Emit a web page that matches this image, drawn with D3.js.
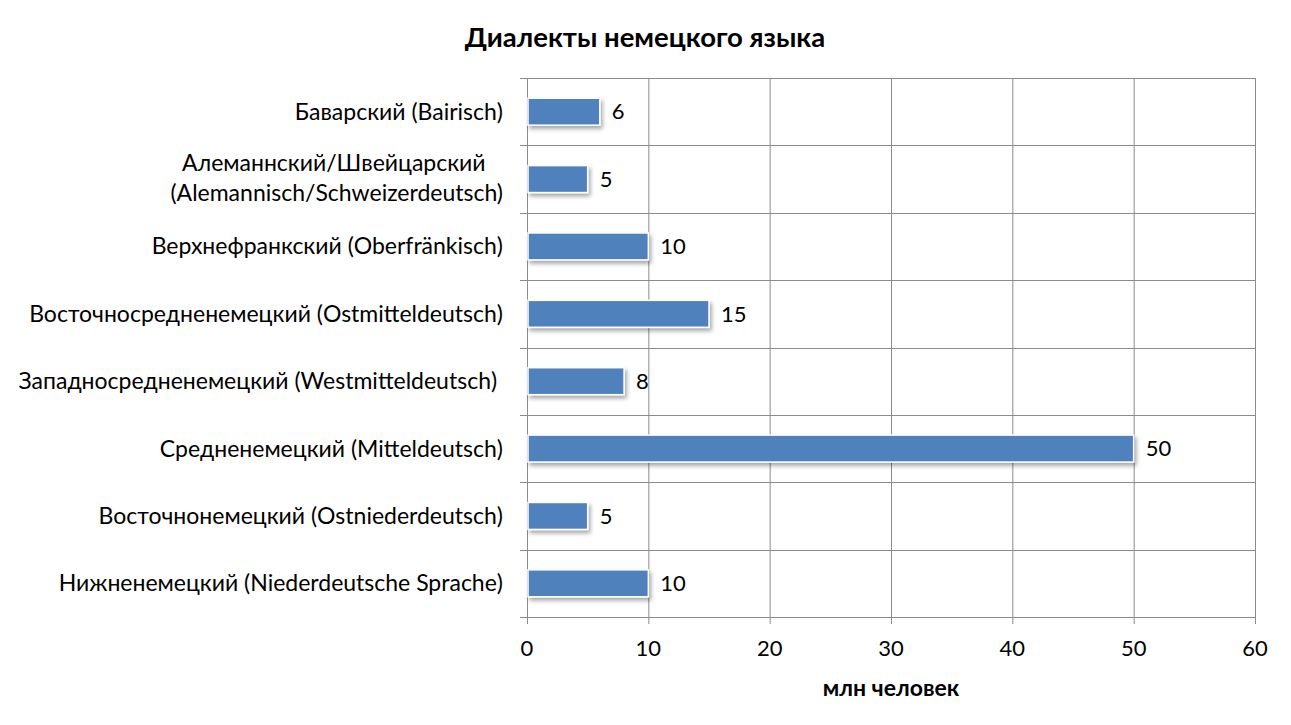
<!DOCTYPE html>
<html><head><meta charset="utf-8">
<script src="https://cdn.jsdelivr.net/npm/d3@7"></script>
<style>body{margin:0;background:#fff}svg{font-family:Lato,sans-serif}</style>
</head><body><svg id="c" width="1291" height="725"></svg>
<script>
const categories = [
  ["Баварский (Bairisch)"],
  ["Алеманнский/Швейцарский ", "(Alemannisch/Schweizerdeutsch)"],
  ["Верхнефранкский (Oberfränkisch)"],
  ["Восточносредненемецкий (Ostmitteldeutsch)"],
  ["Западносредненемецкий (Westmitteldeutsch) "],
  ["Средненемецкий (Mitteldeutsch)"],
  ["Восточнонемецкий (Ostniederdeutsch)"],
  ["Нижненемецкий (Niederdeutsche Sprache)"]
];
const values = [6, 5, 10, 15, 8, 50, 5, 10];
const xTicks = [0, 10, 20, 30, 40, 50, 60];
const title = "Диалекты немецкого языка";
const xTitle = "млн человек";

const svg = d3.select("#c");
const m = {l:527, r:1255, t:78, b:617};
const x = d3.scaleLinear().domain([0,60]).range([m.l, m.r]);
const y = d3.scaleBand().domain(d3.range(categories.length)).range([m.t, m.b]).paddingInner(0.6).paddingOuter(0.3);
const yb = d3.scaleBand().domain(d3.range(categories.length)).range([m.t, m.b]);

const defs = svg.append("defs");
const f = defs.append("filter").attr("id","sh").attr("x","-10%").attr("y","-30%").attr("width","120%").attr("height","180%");
f.append("feDropShadow").attr("dx",2).attr("dy",3).attr("stdDeviation",2).attr("flood-color","#000").attr("flood-opacity",0.35);

const grid = "#8c8c8c";
svg.append("g").selectAll("line").data(xTicks).join("line")
  .attr("x1",d=>x(d)+0.5).attr("x2",d=>x(d)+0.5).attr("y1",m.t).attr("y2",m.b+7)
  .attr("stroke",grid).attr("stroke-width",1);
const hb = d3.range(categories.length+1).map(i=> i<categories.length ? yb(i) : m.b);
svg.append("g").selectAll("line").data(hb).join("line")
  .attr("x1",m.l-7).attr("x2",m.r).attr("y1",d=>Math.round(d)+0.5).attr("y2",d=>Math.round(d)+0.5)
  .attr("stroke",grid).attr("stroke-width",1);

svg.append("g").selectAll("rect").data(values).join("rect")
  .attr("x",x(0)+1).attr("y",(d,i)=>y(i)).attr("width",d=>x(d)-x(0)-1).attr("height",y.bandwidth())
  .attr("fill","#4f81bd").attr("stroke","#fff").attr("stroke-width",1.5).attr("filter","url(#sh)");

svg.append("g").selectAll("text").data(values).join("text")
  .attr("x",d=>x(d)+12).attr("y",(d,i)=>y(i)+y.bandwidth()/2).attr("dy","0.35em")
  .attr("font-size",22).attr("fill","#000").text(d=>d);

const cg = svg.append("g").attr("font-size",23).attr("fill","#000");
categories.forEach((lines,i)=>{
  const cy = yb(i)+yb.bandwidth()/2;
  if(lines.length===1){
    cg.append("text").attr("x",503).attr("y",cy).attr("dy","0.35em").attr("text-anchor","end").attr("xml:space","preserve").text(lines[0]);
  } else {
    const t2 = cg.append("text").attr("x",503).attr("y",cy+14).attr("dy","0.35em").attr("text-anchor","end").text(lines[1]);
    const w = t2.node().getComputedTextLength();
    cg.append("text").attr("x",503-w/2).attr("y",cy-16).attr("dy","0.35em").attr("text-anchor","middle").attr("xml:space","preserve").text(lines[0]);
  }
});

svg.append("g").selectAll("text").data(xTicks).join("text")
  .attr("x",d=>x(d)).attr("y",648).attr("dy","0.35em").attr("text-anchor","middle")
  .attr("font-size",22).text(d=>d);

svg.append("text").attr("x",(m.l+m.r)/2).attr("y",688).attr("dy","0.35em").attr("text-anchor","middle")
  .attr("font-size",23).attr("font-weight","bold").text(xTitle);
svg.append("text").attr("x",645).attr("y",37).attr("dy","0.35em").attr("text-anchor","middle")
  .attr("font-size",27.5).attr("font-weight","bold").text(title);
</script></body></html>
